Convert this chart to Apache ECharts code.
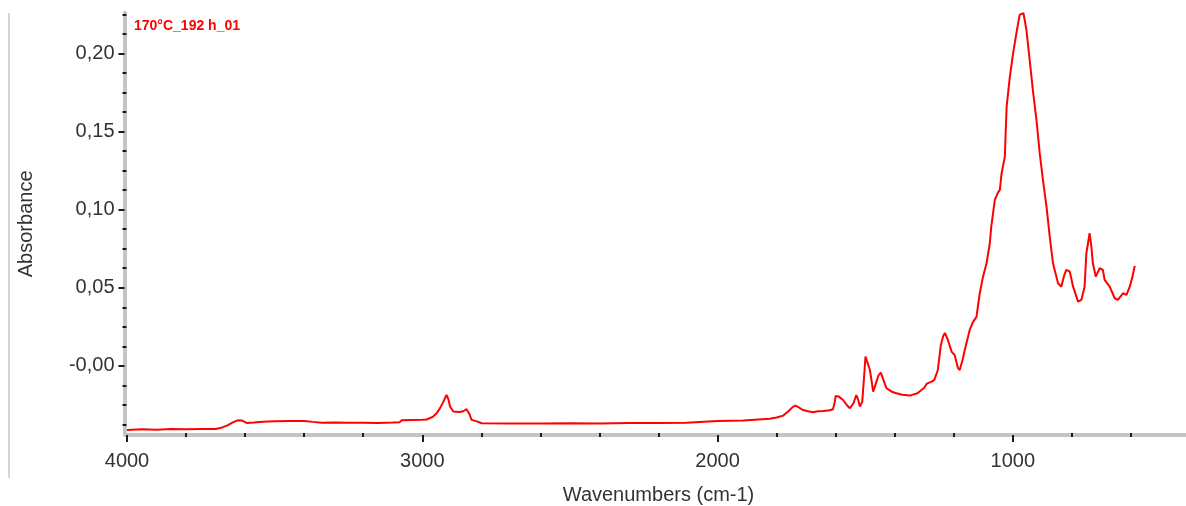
<!DOCTYPE html>
<html>
<head>
<meta charset="utf-8">
<script src="https://cdn.jsdelivr.net/npm/echarts@6/dist/echarts.min.js"></script>
<style>
  html, body { margin: 0; padding: 0; background: #ffffff; }
  #chart { width: 1186px; height: 506px; }
</style>
</head>
<body>
<div id="chart"></div>
<script>
// ---- data ----
const seriesName = '170°C_192 h_01';
const wavenumbers = [
  4000, 3950, 3900, 3850, 3800, 3750, 3700, 3680, 3660, 3640, 3625, 3610, 3595, 3570, 3540, 3500,
  3450, 3400, 3370, 3340, 3300, 3250, 3200, 3150, 3100, 3076, 3070, 3000, 2985, 2963, 2950, 2940,
  2930, 2918, 2912, 2906, 2895, 2875, 2861, 2850, 2840, 2833, 2815, 2799, 2700, 2600, 2500, 2400,
  2300, 2200, 2105, 2100, 2000, 1913, 1910, 1823, 1800, 1778, 1760, 1745, 1736, 1725, 1711, 1690,
  1676, 1660, 1642, 1620, 1609, 1603, 1600, 1590, 1575, 1560, 1552, 1540, 1530, 1524, 1518, 1510,
  1503, 1499, 1492, 1484, 1478, 1473, 1465, 1455, 1447, 1440, 1428, 1410, 1394, 1375, 1349, 1323,
  1300, 1291, 1275, 1266, 1254, 1244, 1236, 1230, 1220, 1207, 1197, 1186, 1180, 1170, 1163, 1146,
  1135, 1123, 1112, 1101, 1089, 1078, 1073, 1061, 1050, 1044, 1038, 1027, 1024, 1021, 1010, 999,
  988, 977, 972, 964, 954, 943, 931, 920, 909, 898, 886, 875, 864, 847, 836, 826,
  819, 807, 796, 779, 768, 757, 751, 740, 734, 729, 719, 706, 695, 689, 672, 655,
  644, 627, 615, 604, 595, 587
];
const absorbance = [
  -0.0410, -0.0405, -0.0408, -0.0403, -0.0405, -0.0404, -0.0403, -0.0395, -0.0380, -0.0360, -0.0348, -0.0350, -0.0365, -0.0362, -0.0357, -0.0354,
  -0.0353, -0.0352, -0.0358, -0.0363, -0.0362, -0.0364, -0.0363, -0.0365, -0.0362, -0.0360, -0.0347, -0.0345, -0.0343, -0.0324, -0.0300, -0.0270,
  -0.0235, -0.0186, -0.0210, -0.0260, -0.0292, -0.0295, -0.0290, -0.0277, -0.0310, -0.0345, -0.0355, -0.0367, -0.0368, -0.0368, -0.0367, -0.0369,
  -0.0366, -0.0365, -0.0364, -0.0352, -0.0352, -0.0350, -0.0339, -0.0338, -0.0330, -0.0318, -0.0290, -0.0262, -0.0254, -0.0265, -0.0282, -0.0292,
  -0.0296, -0.0290, -0.0288, -0.0284, -0.0277, -0.0230, -0.0192, -0.0195, -0.0218, -0.0255, -0.0271, -0.0240, -0.0186, -0.0215, -0.0260, -0.0230,
  -0.0050, 0.0060, 0.0020, -0.0026, -0.0100, -0.0164, -0.0120, -0.0060, -0.0043, -0.0080, -0.0143, -0.0165, -0.0175, -0.0185, -0.0190, -0.0175,
  -0.0140, -0.0113, -0.0100, -0.0090, -0.0026, 0.0130, 0.0190, 0.0211, 0.0166, 0.0090, 0.0070, -0.0013, -0.0026, 0.0040, 0.0100, 0.0230,
  0.0280, 0.0315, 0.0465, 0.0571, 0.0657, 0.0785, 0.0891, 0.1062, 0.1110, 0.1126, 0.1233, 0.1339, 0.1510, 0.1659, 0.1851, 0.2001,
  0.2128, 0.2246, 0.2257, 0.2257, 0.2150, 0.1958, 0.1745, 0.1574, 0.1361, 0.1190, 0.1019, 0.0827, 0.0657, 0.0529, 0.0507, 0.0580,
  0.0614, 0.0603, 0.0507, 0.0411, 0.0422, 0.0507, 0.0721, 0.0849, 0.0763, 0.0657, 0.0571, 0.0625, 0.0614, 0.0550, 0.0507, 0.0433,
  0.0422, 0.0465, 0.0454, 0.0507, 0.0571, 0.0640
];

// axis ranges and ticks
const xMin = 400, xMax = 4000;
const yMin = -0.0442, yMax = 0.226;
const xMajorTicks = [4000, 3000, 2000, 1000];
const xMajorLabels = ['4000', '3000', '2000', '1000'];
const xMinorTicks = [3800, 3600, 3400, 3200, 2800, 2600, 2400, 2200, 1800, 1600, 1400, 1200, 800, 600];
const yMajorTicks = [0, 0.05, 0.10, 0.15, 0.20];
const yMajorLabels = ['-0,00', '0,05', '0,10', '0,15', '0,20'];
const yMinorTicks = [-0.0375, -0.025, -0.0125, 0.0125, 0.025, 0.0375, 0.0625, 0.075, 0.0875,
  0.1125, 0.125, 0.1375, 0.1625, 0.175, 0.1875, 0.2125, 0.225];
const xAxisName = 'Wavenumbers (cm-1)';
const yAxisName = 'Absorbance';

const seriesData = wavenumbers.map((w, i) => [w, absorbance[i]]);

function labelFor(values, labels) {
  return function (v) {
    const i = values.findIndex(t => Math.abs(t - v) < 1e-9);
    return i >= 0 ? labels[i] : '';
  };
}

const FONT = '"Liberation Sans", Arial, sans-serif';
const BAR = '#c4c4c4';
const TICK = '#1a1a1a';

const chart = echarts.init(document.getElementById('chart'), null, { renderer: 'canvas' });
chart.setOption({
  animation: false,
  backgroundColor: '#ffffff',
  title: {
    text: seriesName,
    left: 129, top: 14,
    textStyle: { color: '#ff0000', fontSize: 14, fontWeight: 'bold', fontFamily: FONT }
  },
  graphic: [{
    type: 'line',
    shape: { x1: 9, y1: 13, x2: 9, y2: 478 },
    style: { stroke: '#d6d6ce', lineWidth: 2 }
  }],
  grid: { left: 127, right: -4, top: 12.7, bottom: 71, containLabel: false, outerBoundsMode: 'none' },
  xAxis: [
    {
      type: 'value', position: 'bottom', inverse: true, min: xMin, max: xMax,
      axisLine: { show: true, onZero: false, lineStyle: { color: BAR, width: 4 } },
      axisTick: { show: false },
      axisLabel: { show: false },
      splitLine: { show: false }
    },
    {
      type: 'value', position: 'bottom', inverse: true, min: xMin, max: xMax,
      axisLine: { show: false, onZero: false },
      axisTick: { show: true, customValues: xMajorTicks, length: 7, lineStyle: { color: TICK, width: 2 } },
      axisLabel: {
        show: true, customValues: xMajorTicks, formatter: labelFor(xMajorTicks, xMajorLabels),
        fontSize: 20, color: '#333333', fontFamily: FONT, margin: 16
      },
      splitLine: { show: false },
      name: xAxisName, nameLocation: 'middle', nameGap: 50,
      nameTextStyle: { fontSize: 20, color: '#333333', fontFamily: FONT }
    },
    {
      type: 'value', position: 'bottom', inverse: true, min: xMin, max: xMax, offset: 2,
      axisLine: { show: false, onZero: false },
      axisTick: { show: true, inside: true, customValues: xMinorTicks, length: 4, lineStyle: { color: TICK, width: 2 } },
      axisLabel: { show: false },
      splitLine: { show: false }
    }
  ],
  yAxis: [
    {
      type: 'value', position: 'left', min: yMin, max: yMax, offset: 2.5,
      axisLine: { show: true, onZero: false, lineStyle: { color: BAR, width: 4 } },
      axisTick: { show: true, customValues: yMajorTicks, length: 6, lineStyle: { color: TICK, width: 2 } },
      axisLabel: {
        show: true, customValues: yMajorTicks, formatter: labelFor(yMajorTicks, yMajorLabels),
        fontSize: 20, color: '#333333', fontFamily: FONT, margin: 10
      },
      splitLine: { show: false },
      name: yAxisName, nameLocation: 'middle', nameGap: 88, nameRotate: 90,
      nameTextStyle: { fontSize: 20, color: '#333333', fontFamily: FONT }
    },
    {
      type: 'value', position: 'left', min: yMin, max: yMax, offset: 4.5,
      axisLine: { show: false, onZero: false },
      axisTick: { show: true, inside: true, customValues: yMinorTicks, length: 4, lineStyle: { color: TICK, width: 2 } },
      axisLabel: { show: false },
      splitLine: { show: false }
    }
  ],
  series: [{
    name: seriesName,
    type: 'line',
    xAxisIndex: 0,
    yAxisIndex: 0,
    data: seriesData,
    showSymbol: false,
    symbol: 'none',
    clip: false,
    lineStyle: { color: '#ff0000', width: 2 }
  }]
});
</script>
</body>
</html>
